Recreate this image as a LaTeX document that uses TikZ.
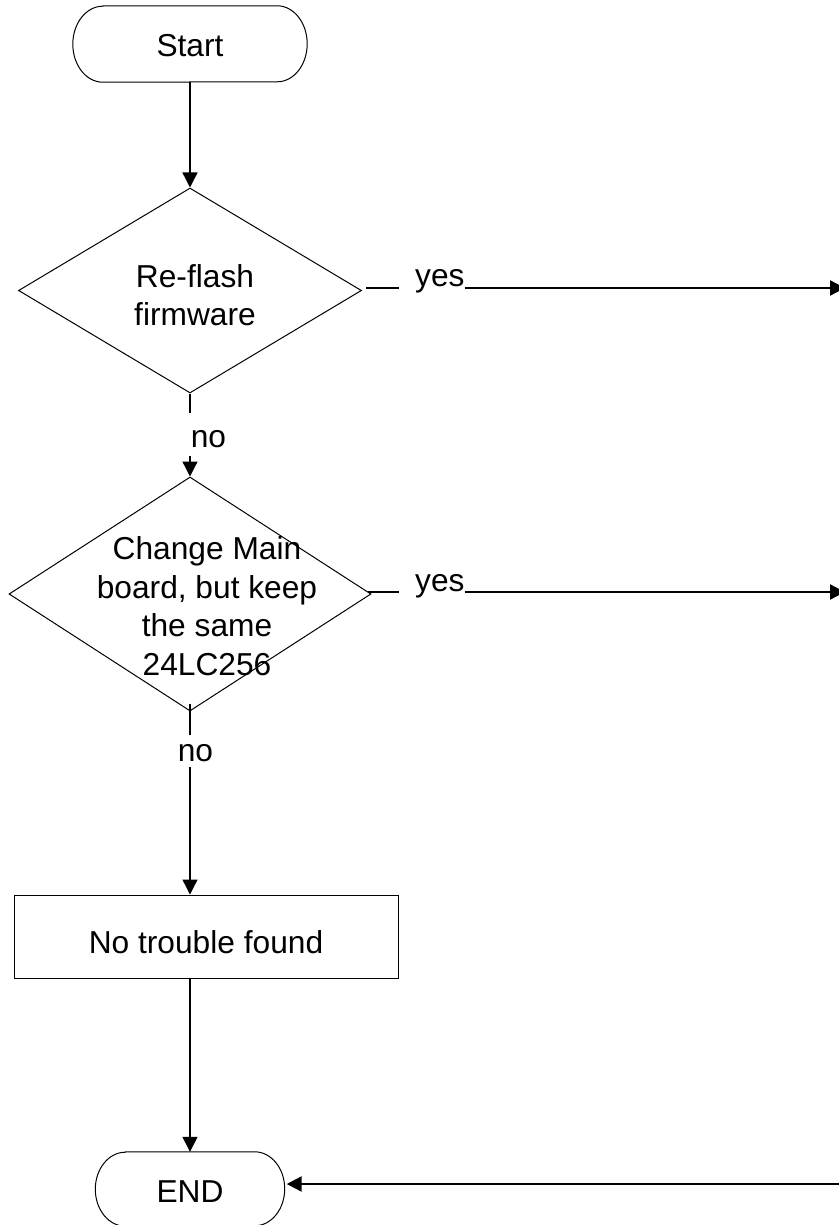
\documentclass[tikz,border=0pt]{standalone}
\usepackage{fontspec}
\setmainfont{Liberation Sans}
\usetikzlibrary{shapes.geometric,arrows.meta,calc}
\begin{document}
\begin{tikzpicture}[x=1pt,y=-1pt,
  txt/.style={font=\fontsize{31.7pt}{38.5pt}\selectfont, inner sep=0pt},
  shapeline/.style={line width=1pt},
  conn/.style={line width=1.3pt},
  arr/.style={-{Triangle[length=15pt,width=15pt]}},
  longline/.style={line width=2.2pt}]
\useasboundingbox (0,0) rectangle (838,1225);
% Start terminal
\node[txt, minimum width=234pt, minimum height=76pt, text height=26pt, text depth=0pt] (start) at (190,44) {Start};
\draw[shapeline] ([xshift=30pt]start.north west) -- ([xshift=-30pt]start.north east)
  arc[start angle=90,end angle=-90,x radius=30pt,y radius=38pt]
  -- ([xshift=30pt]start.south west)
  arc[start angle=270,end angle=90,x radius=30pt,y radius=38pt] -- cycle;
% Decision 1
\node[diamond, draw, shapeline, minimum width=343pt, minimum height=205pt, inner sep=0pt] (d1) at (190,290.5) {};
\node[txt, align=center] (d1t) at (195,295) {Re-flash\\firmware};
% Decision 2
\node[diamond, draw, shapeline, minimum width=362pt, minimum height=234pt, inner sep=0pt] (d2) at (190,594) {};
\node[txt, align=center] (d2t) at (207,606) {Change Main\\board, but keep\\the same\\24LC256};
% Process
\node[txt, draw, shapeline, minimum width=384pt, minimum height=83pt, text height=33pt, text depth=0pt] (nt) at (206,936.5) {No trouble found};
% End terminal
\node[txt, minimum width=189pt, minimum height=74pt, text height=26pt, text depth=0pt] (fin) at (190,1189) {END};
\draw[shapeline] ([xshift=30pt]fin.north west) -- ([xshift=-30pt]fin.north east)
  arc[start angle=90,end angle=-90,x radius=30pt,y radius=37pt]
  -- ([xshift=30pt]fin.south west)
  arc[start angle=270,end angle=90,x radius=30pt,y radius=37pt] -- cycle;
% labels
\node[txt, text height=34pt, text depth=9pt] (no1) at (208.5,434.5) {no};
\node[txt, text height=26pt, text depth=6pt] (no2) at (195.5,751) {no};
\node[txt, anchor=base west] (yes1) at (415,286) {yes};
\node[txt, anchor=base west] (yes2) at (415,591) {yes};
\coordinate (r1) at (845,288);
\coordinate (r2) at (845,592);
\coordinate (r3) at (845,1184);
% connectors
\draw[conn, arr] (start.south) -- (d1.north);
\draw[conn] (d1.south) -- (no1.north -| d1.south);
\draw[conn, arr] (no1.south -| d1.south) -- (d2.north);
\draw[conn] ($(d2.south)+(0,-8)$) -- (no2.north -| d2.south);
\draw[conn, arr] (no2.south -| d2.south) -- (nt.north -| d2.south);
\draw[conn, arr] (nt.south -| fin.north) -- (fin.north);
\draw[conn] ($(d1.east |- r1)+(4,0)$) -- ($(yes1.west |- r1)+(-16,0)$);
\draw[longline, arr] (yes1.east |- r1) -- (r1);
\draw[conn] ($(d2.east |- r2)+(-4,0)$) -- ($(yes2.west |- r2)+(-16,0)$);
\draw[longline, arr] (yes2.east |- r2) -- (r2);
\draw[longline, arr] (r3) -- ($(fin.east |- r3)+(2,0)$);
\end{tikzpicture}
\end{document}
